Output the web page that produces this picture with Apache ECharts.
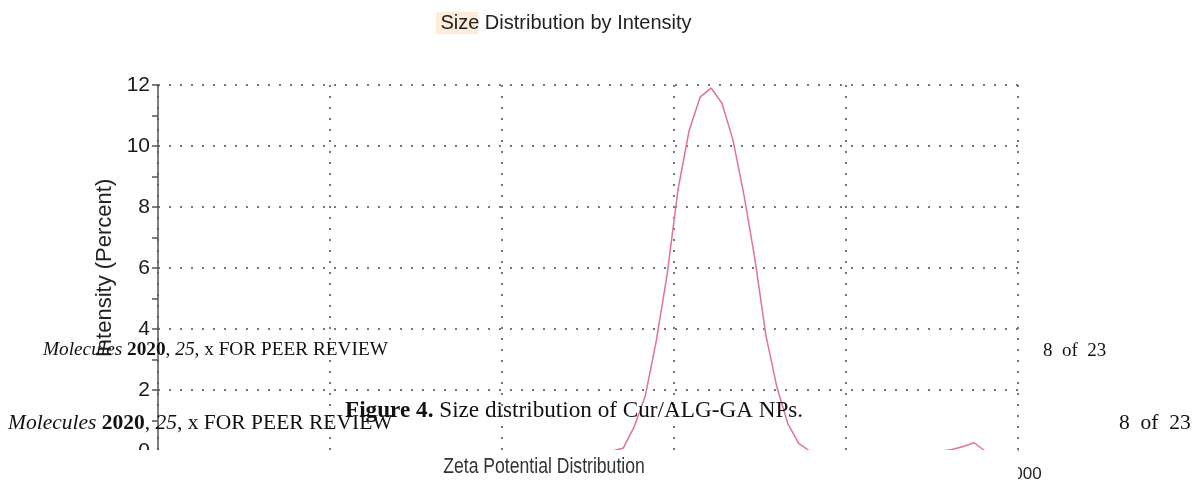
<!DOCTYPE html>
<html>
<head>
<meta charset="utf-8">
<script src="https://cdn.jsdelivr.net/npm/echarts@6/dist/echarts.min.js"></script>
<style>
  html, body { margin: 0; padding: 0; background: #fff; }
  #chart { width: 1199px; height: 491px; }
</style>
</head>
<body>
<div id="chart"></div>
<script>
// size classes (d.nm) and intensity (%)
var sizes = [0.4, 0.4632, 0.5365, 0.6213, 0.7195, 0.8332, 0.9649, 1.117, 1.294, 1.499,
  1.736, 2.010, 2.328, 2.696, 3.122, 3.615, 4.187, 4.849, 5.615, 6.503,
  7.531, 8.721, 10.10, 11.70, 13.54, 15.69, 18.17, 21.04, 24.36, 28.21,
  32.67, 37.84, 43.82, 50.75, 58.77, 68.06, 78.82, 91.28, 105.7, 122.4,
  141.8, 164.2, 190.1, 220.2, 255.0, 295.3, 342.0, 396.1, 458.7, 531.2,
  615.1, 712.4, 825.0, 955.4, 1106, 1281, 1484, 1718, 1990, 2305,
  2669, 3091, 3580, 4145, 4801, 5560, 6439, 7456, 8635, 10000];
var intensity = [0, 0, 0, 0, 0, 0, 0, 0, 0, 0,
  0, 0, 0, 0, 0, 0, 0, 0, 0, 0,
  0, 0, 0, 0, 0, 0, 0, 0, 0, 0,
  0, 0, 0, 0.1, 0.8, 1.8, 3.6, 5.8, 8.6, 10.5,
  11.6, 11.9, 11.4, 10.2, 8.4, 6.3, 3.8, 2.1, 0.9, 0.25,
  0, 0, 0, 0, 0, 0, 0, 0, 0, 0,
  0, 0, 0, 0.05, 0.15, 0.27, 0, 0, 0, 0];
var yTicks = [0, 2, 4, 6, 8, 10, 12];

var chart = echarts.init(document.getElementById('chart'));

var dotted = { color: '#777', width: 2, type: [2, 9] };
var sans = 'Liberation Sans';
var serif = 'Liberation Serif';

function serifRich(size) {
  return {
    i: { fontStyle: 'italic', fontSize: size, fontFamily: serif, fill: '#111' },
    b: { fontWeight: 'bold', fontSize: size, fontFamily: serif, fill: '#111' }
  };
}

var option = {
  backgroundColor: '#fff',
  animation: false,
  grid: { left: 158, right: 181, top: 85, bottom: 40 },
  xAxis: {
    type: 'log',
    logBase: 10,
    min: 0.1,
    max: 10000,
    axisLine: { show: true, lineStyle: { color: '#555', width: 1.5 } },
    axisTick: { show: false },
    splitLine: { show: true, lineStyle: dotted },
    axisLabel: { margin: 15, fontSize: 17, fontFamily: sans, color: '#222',
      formatter: function (v) { return String(v); } }
  },
  yAxis: {
    type: 'value',
    min: yTicks[0],
    max: yTicks[yTicks.length - 1],
    interval: 2,
    name: 'Intensity (Percent)',
    nameLocation: 'middle',
    nameGap: 37,
    nameTextStyle: { fontSize: 22, fontFamily: sans, color: '#222' },
    axisLine: { show: true, lineStyle: { color: '#555', width: 1.5 } },
    axisTick: { show: true, length: 6, lineStyle: { color: '#555', width: 1.5 } },
    minorTick: { show: true, splitNumber: 2, length: 6, lineStyle: { color: '#555', width: 1.5 } },
    splitLine: { show: true, lineStyle: dotted },
    axisLabel: { margin: 8, fontSize: 21, fontFamily: sans, color: '#1a1a1a' }
  },
  series: [{
    type: 'line',
    data: sizes.map(function (s, i) { return [s, intensity[i]]; }),
    showSymbol: false,
    lineStyle: { color: '#e4738f', width: 1.5 },
    z: 3
  }],
  graphic: [
    { type: 'rect', shape: { x: 436, y: 12, width: 42, height: 22 },
      style: { fill: 'rgba(250,200,140,0.35)' }, z: 1 },
    { type: 'text', x: 566, y: 23, z: 2,
      style: { text: 'Size Distribution by Intensity', fontSize: 20, fontFamily: sans,
        fill: '#222', align: 'center', verticalAlign: 'middle' } },
    // white patch covering the bottom of the plot
    { type: 'rect', shape: { x: 0, y: 450, width: 1018, height: 41 },
      style: { fill: '#fff' }, z: 50 },
    { type: 'text', x: 544, y: 467, scaleX: 0.8, originX: 0, originY: 0, z: 51,
      style: { text: 'Zeta Potential Distribution', fontSize: 22, fontFamily: sans,
        fill: '#333', align: 'center', verticalAlign: 'middle' } },
    { type: 'text', x: 43, y: 350, z: 60,
      style: { text: '{i|Molecules} {b|2020}, {i|25}, x FOR PEER REVIEW', fontSize: 19.3,
        fontFamily: serif, fill: '#111', verticalAlign: 'middle', rich: serifRich(19.3) } },
    { type: 'text', x: 1043, y: 351, z: 60,
      style: { text: '8  of  23', fontSize: 19, fontFamily: serif, fill: '#111',
        verticalAlign: 'middle' } },
    { type: 'text', x: 345, y: 411, z: 60,
      style: { text: '{b|Figure 4.} Size distribution of Cur/ALG-GA NPs.', fontSize: 23.2,
        fontFamily: serif, fill: '#111', verticalAlign: 'middle', rich: serifRich(23.2) } },
    { type: 'text', x: 8, y: 423, z: 60,
      style: { text: '{i|Molecules} {b|2020}, {i|25}, x FOR PEER REVIEW', fontSize: 21.5,
        fontFamily: serif, fill: '#111', verticalAlign: 'middle', rich: serifRich(21.5) } },
    { type: 'text', x: 1119, y: 423, z: 60,
      style: { text: '8  of  23', fontSize: 21.5, fontFamily: serif, fill: '#111',
        verticalAlign: 'middle' } }
  ]
};

chart.setOption(option);
</script>
</body>
</html>
